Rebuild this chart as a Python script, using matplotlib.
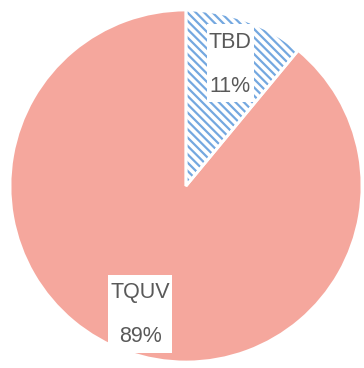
import numpy as np
import matplotlib.pyplot as plt
from matplotlib.patches import Rectangle

labels = ['TBD', 'TQUV']
shares = [11, 89]

plt.rcParams['font.family'] = ['Liberation Sans', 'DejaVu Sans']
plt.rcParams['hatch.linewidth'] = 1.6

fig = plt.figure(figsize=(3.64, 3.68), dpi=100)
ax = fig.add_axes([10 / 364, 6 / 368, 352 / 364, 352 / 368])

wedges, _ = ax.pie(shares, startangle=90, counterclock=False, radius=1,
                   colors=['white', '#F5A79D'],
                   wedgeprops=dict(linewidth=0))
wedges[0].set_hatch('\\\\\\\\')
wedges[0].set_edgecolor('#74A8E0')
wedges[0].set_linewidth(0)

# white outlines between the slices
ax.pie(shares, startangle=90, counterclock=False, radius=1,
       colors=['none', 'none'],
       wedgeprops=dict(linewidth=2, edgecolor='white', fill=False))

ax.set_xlim(-1, 1)
ax.set_ylim(-1, 1)
ax.set_aspect('equal')
ax.axis('off')

# labels inside white boxes (box a bit taller than the text)
renderer = fig.canvas.get_renderer()
px = 1 / 176  # one data unit is the radius, 176 px
start = 90
for lab, s, dist in zip(labels, shares, [0.74, 0.77]):
    span = 360 * s / sum(shares)
    mid = np.deg2rad(start - span / 2)
    start -= span
    x, y = dist * np.cos(mid), dist * np.sin(mid)
    t = ax.text(x, y - 1 * px, f'{lab}\n{s}%', ha='center', va='center',
                fontsize=15.5, color='#595959', linespacing=2.4, zorder=5)
    bb = t.get_window_extent(renderer).transformed(ax.transData.inverted())
    w = bb.width + 4 * px
    h = 78 * px
    ax.add_patch(Rectangle((x - w / 2, y - h / 2), w, h, facecolor='white',
                           edgecolor='none', zorder=4))

fig.savefig('out.png', dpi=100)
